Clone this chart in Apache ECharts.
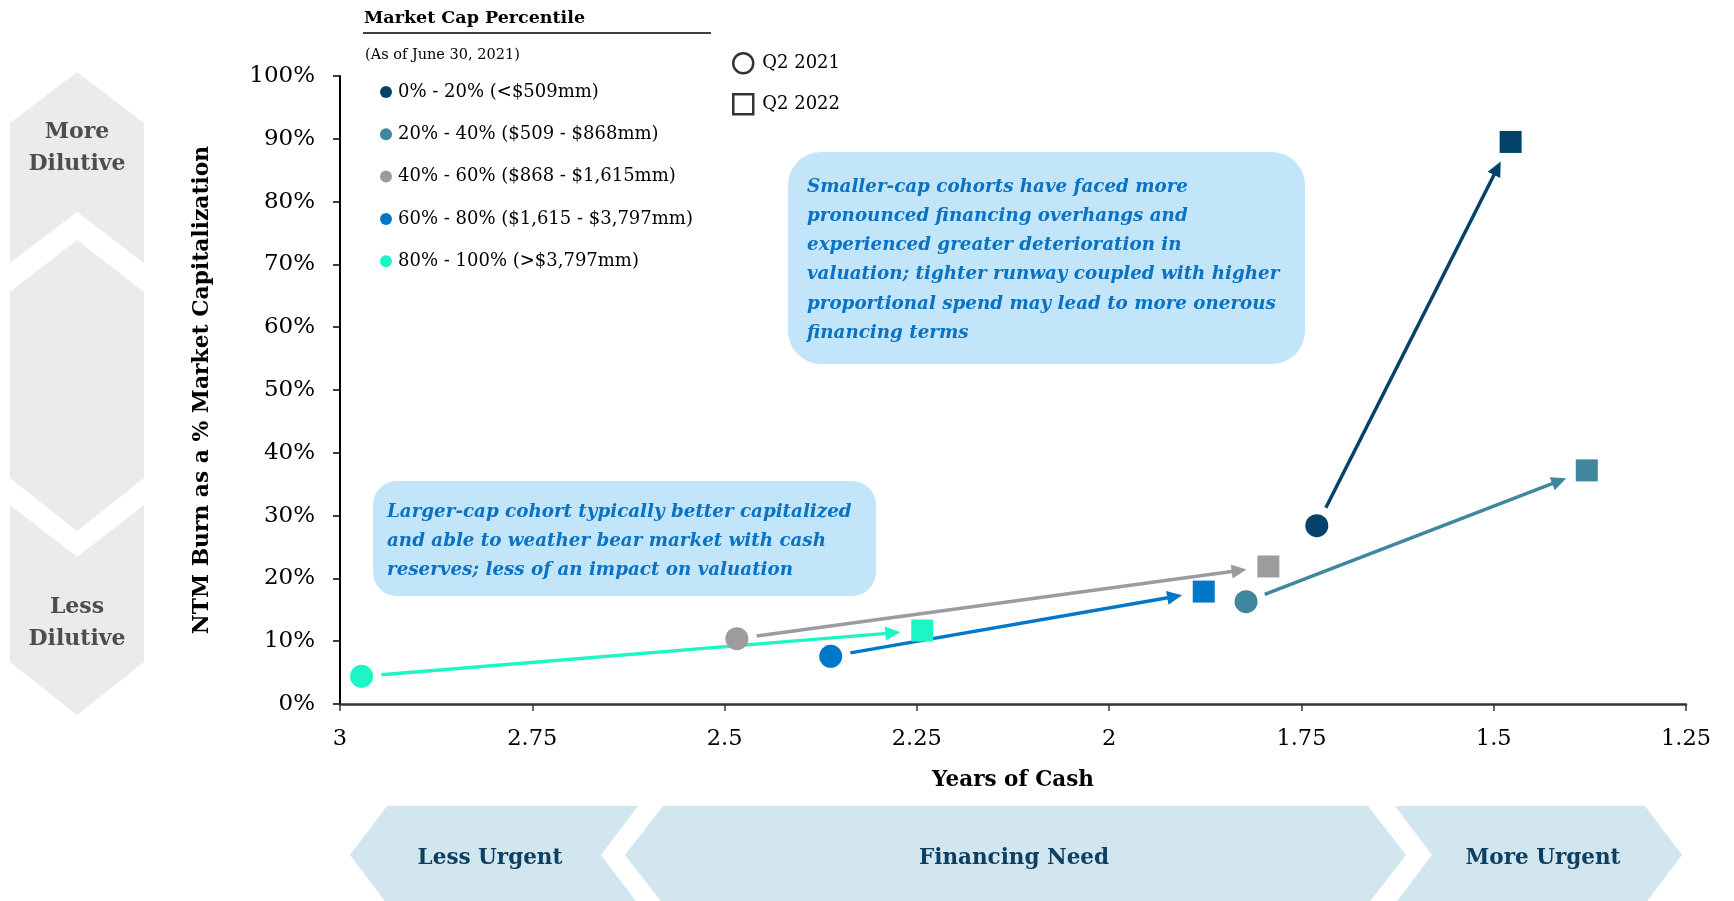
<!DOCTYPE html>
<html>
<head>
<meta charset="utf-8">
<script src="https://cdn.jsdelivr.net/npm/echarts@6/dist/echarts.min.js"></script>
<style>
html,body{margin:0;padding:0;background:#fff;}
#chart{width:1734px;height:901px;}
</style>
</head>
<body>
<div id="chart"></div>
<script>
// ---------- data ----------
const cohorts = [
  '0% - 20% (<$509mm)',
  '20% - 40% ($509 - $868mm)',
  '40% - 60% ($868 - $1,615mm)',
  '60% - 80% ($1,615 - $3,797mm)',
  '80% - 100% (>$3,797mm)'
];
const years2021 = [1.730, 1.822, 2.484, 2.362, 2.972];
const burn2021  = [28.4, 16.3, 10.4, 7.6, 4.4];
const years2022 = [1.478, 1.379, 1.793, 1.877, 2.243];
const burn2022  = [89.5, 37.2, 21.9, 17.9, 11.7];
const periods = ['Q2 2021', 'Q2 2022'];
const xAxisRange = [1.25, 3];
const yAxisRange = [0, 100];

// ---------- styles ----------
const colors = ['#03436A', '#3F879F', '#9C9C9E', '#0077C8', '#1DF5C4'];
const FONT = 'DejaVu Serif';

const chart = echarts.init(document.getElementById('chart'));

const scatterSeries = cohorts.map((name, i) => ({
  name: name,
  type: 'scatter',
  z: 5,
  itemStyle: { color: colors[i], opacity: 1 },
  data: [
    { value: [years2021[i], burn2021[i]], symbol: 'circle', symbolSize: 23 },
    { value: [years2022[i], burn2022[i]], symbol: 'rect', symbolSize: 22 }
  ],
  silent: true
}));

const arrowSeries = {
  type: 'custom',
  z: 3,
  silent: true,
  encode: { x: [0, 2], y: [1, 3] },
  data: cohorts.map((c, i) => ({
    value: [years2021[i], burn2021[i], years2022[i], burn2022[i]],
    itemStyle: { color: colors[i] }
  })),
  renderItem: function (params, api) {
    const p0 = api.coord([api.value(0), api.value(1)]);
    const p1 = api.coord([api.value(2), api.value(3)]);
    const color = api.visual('color');
    const dx = p1[0] - p0[0], dy = p1[1] - p0[1];
    const len = Math.hypot(dx, dy);
    const ux = dx / len, uy = dy / len;
    const startGap = 20, endGap = 22, headLen = 15, headW = 7;
    const s = [p0[0] + ux * startGap, p0[1] + uy * startGap];
    const e = [p1[0] - ux * endGap, p1[1] - uy * endGap];
    const b = [e[0] - ux * headLen, e[1] - uy * headLen];
    const nx = -uy, ny = ux;
    return {
      type: 'group',
      children: [
        { type: 'line', shape: { x1: s[0], y1: s[1], x2: b[0] + ux * 2, y2: b[1] + uy * 2 },
          style: { stroke: color, lineWidth: 3.5 } },
        { type: 'polygon', shape: { points: [e, [b[0] + nx * headW, b[1] + ny * headW], [b[0] - nx * headW, b[1] - ny * headW]] },
          style: { fill: color } }
      ]
    };
  }
};

const periodSeries = periods.map((p, i) => ({
  name: p,
  type: 'scatter',
  data: [],
  symbol: i === 0 ? 'circle' : 'rect',
  itemStyle: { color: '#fff', borderColor: '#000', borderWidth: 2.5 }
}));

const grey = '#EBEBEB';
const band = '#D2E6EF';
const bandText = '#0C3F61';

const graphics = [
  // left vertical chevrons
  { type: 'polygon', silent: true, z: 0, shape: { points: [[77,72],[144,123],[144,263],[77,212],[10,263],[10,123]] }, style: { fill: grey } },
  { type: 'polygon', silent: true, z: 0, shape: { points: [[77,240],[144,292],[144,478],[77,531],[10,478],[10,292]] }, style: { fill: grey } },
  { type: 'polygon', silent: true, z: 0, shape: { points: [[10,505],[77,557],[144,505],[144,662],[77,715],[10,662]] }, style: { fill: grey } },
  { type: 'text', silent: true, z: 1, x: 77, y: 148, style: { text: 'More\nDilutive', font: 'bold 22px "' + FONT + '"', fill: '#4D4D4D', align: 'center', verticalAlign: 'middle', lineHeight: 32 } },
  { type: 'text', silent: true, z: 1, x: 77, y: 623, style: { text: 'Less\nDilutive', font: 'bold 22px "' + FONT + '"', fill: '#4D4D4D', align: 'center', verticalAlign: 'middle', lineHeight: 32 } },
  // bottom horizontal chevrons
  { type: 'polygon', silent: true, z: 0, shape: { points: [[350,855],[387,806],[638,806],[601,855],[638,904],[387,904]] }, style: { fill: band } },
  { type: 'polygon', silent: true, z: 0, shape: { points: [[625,855],[663,806],[1368,806],[1406,855],[1368,904],[663,904]] }, style: { fill: band } },
  { type: 'polygon', silent: true, z: 0, shape: { points: [[1395,806],[1645,806],[1682,855],[1645,904],[1395,904],[1432,855]] }, style: { fill: band } },
  { type: 'text', silent: true, z: 1, x: 490, y: 858, style: { text: 'Less Urgent', font: 'bold 21.5px "' + FONT + '"', fill: bandText, align: 'center', verticalAlign: 'middle' } },
  { type: 'text', silent: true, z: 1, x: 1014, y: 858, style: { text: 'Financing Need', font: 'bold 21.5px "' + FONT + '"', fill: bandText, align: 'center', verticalAlign: 'middle' } },
  { type: 'text', silent: true, z: 1, x: 1543, y: 858, style: { text: 'More Urgent', font: 'bold 21.5px "' + FONT + '"', fill: bandText, align: 'center', verticalAlign: 'middle' } },
  // legend header
  { type: 'text', silent: true, x: 364, y: 18, style: { text: 'Market Cap Percentile', font: 'bold 17.5px "' + FONT + '"', fill: '#000', verticalAlign: 'middle' } },
  { type: 'line', silent: true, shape: { x1: 363, y1: 33, x2: 711, y2: 33 }, style: { stroke: '#000', lineWidth: 1.5 } },
  { type: 'text', silent: true, x: 365, y: 55, style: { text: '(As of June 30, 2021)', font: '14.5px "' + FONT + '"', fill: '#000', verticalAlign: 'middle' } },
  // annotation boxes
  { type: 'rect', silent: true, z: 2, shape: { x: 788, y: 152, width: 517, height: 212, r: 33 }, style: { fill: '#C3E5FA' } },
  { type: 'text', silent: true, z: 3, x: 807, y: 187, style: {
      text: 'Smaller-cap cohorts have faced more\npronounced financing overhangs and\nexperienced greater deterioration in\nvaluation; tighter runway coupled with higher\nproportional spend may lead to more onerous\nfinancing terms',
      font: 'italic bold 18.3px "' + FONT + '"', fill: '#0A72C2', lineHeight: 29.2, verticalAlign: 'middle' } },
  { type: 'rect', silent: true, z: 2, shape: { x: 373, y: 481, width: 503, height: 115, r: 24 }, style: { fill: '#C3E5FA' } },
  { type: 'text', silent: true, z: 3, x: 387, y: 512, style: {
      text: 'Larger-cap cohort typically better capitalized\nand able to weather bear market with cash\nreserves; less of an impact on valuation',
      font: 'italic bold 18.3px "' + FONT + '"', fill: '#0A72C2', lineHeight: 29, verticalAlign: 'middle' } }
];

// multi-line annotation text: anchor given for first line, convert to block centre
graphics.forEach(g => {
  if (g.type === 'text' && g.style.text.indexOf('\n') >= 0 && g.style.font.indexOf('italic') >= 0) {
    const n = g.style.text.split('\n').length;
    g.y = g.y + (n - 1) * g.style.lineHeight / 2;
  }
});

const option = {
  backgroundColor: '#fff',
  animation: false,
  textStyle: { fontFamily: FONT },
  grid: { left: 340, right: 48, top: 76, bottom: 197 },
  legend: [
    {
      data: cohorts.map(c => ({ name: c, icon: 'circle' })),
      orient: 'vertical',
      left: 375, top: 77,
      itemWidth: 12, itemHeight: 12,
      itemGap: 22.3,
      selectedMode: false,
      textStyle: { fontFamily: FONT, fontSize: 18, color: '#000', lineHeight: 20, padding: [0, 0, 0, 1] }
    },
    {
      data: [{ name: periods[0], icon: 'circle' }, { name: periods[1], icon: 'rect' }],
      orient: 'vertical',
      left: 727, top: 47,
      itemWidth: 20, itemHeight: 20,
      itemGap: 18.5,
      selectedMode: false,
      itemStyle: { color: '#fff', borderColor: '#000', borderWidth: 2.5 },
      textStyle: { fontFamily: FONT, fontSize: 18, color: '#000', padding: [0, 0, 0, 4] }
    }
  ],
  xAxis: {
    type: 'value',
    min: xAxisRange[0], max: xAxisRange[1], interval: 0.25,
    inverse: true,
    name: 'Years of Cash',
    nameLocation: 'middle',
    nameGap: 65,
    nameTextStyle: { fontFamily: FONT, fontWeight: 'bold', fontSize: 21.5, color: '#000' },
    axisLine: { show: true, lineStyle: { color: '#333', width: 2.5 } },
    axisTick: { show: true, length: 7, lineStyle: { color: '#333', width: 1.5 } },
    axisLabel: { fontFamily: FONT, fontSize: 22.5, color: '#000', margin: 24 },
    splitLine: { show: false }
  },
  yAxis: {
    type: 'value',
    min: yAxisRange[0], max: yAxisRange[1], interval: 10,
    name: 'NTM Burn as a % Market Capitalization',
    nameLocation: 'middle',
    nameGap: 127,
    nameTextStyle: { fontFamily: FONT, fontWeight: 'bold', fontSize: 21.8, color: '#000' },
    axisLine: { show: true, lineStyle: { color: '#000', width: 2 } },
    axisTick: { show: true, length: 7, lineStyle: { color: '#000', width: 1.5 } },
    axisLabel: { fontFamily: FONT, fontSize: 23, color: '#000', margin: 25, formatter: '{value}%' },
    splitLine: { show: false }
  },
  graphic: graphics,
  series: [arrowSeries].concat(scatterSeries, periodSeries)
};

chart.setOption(option);
</script>
</body>
</html>
